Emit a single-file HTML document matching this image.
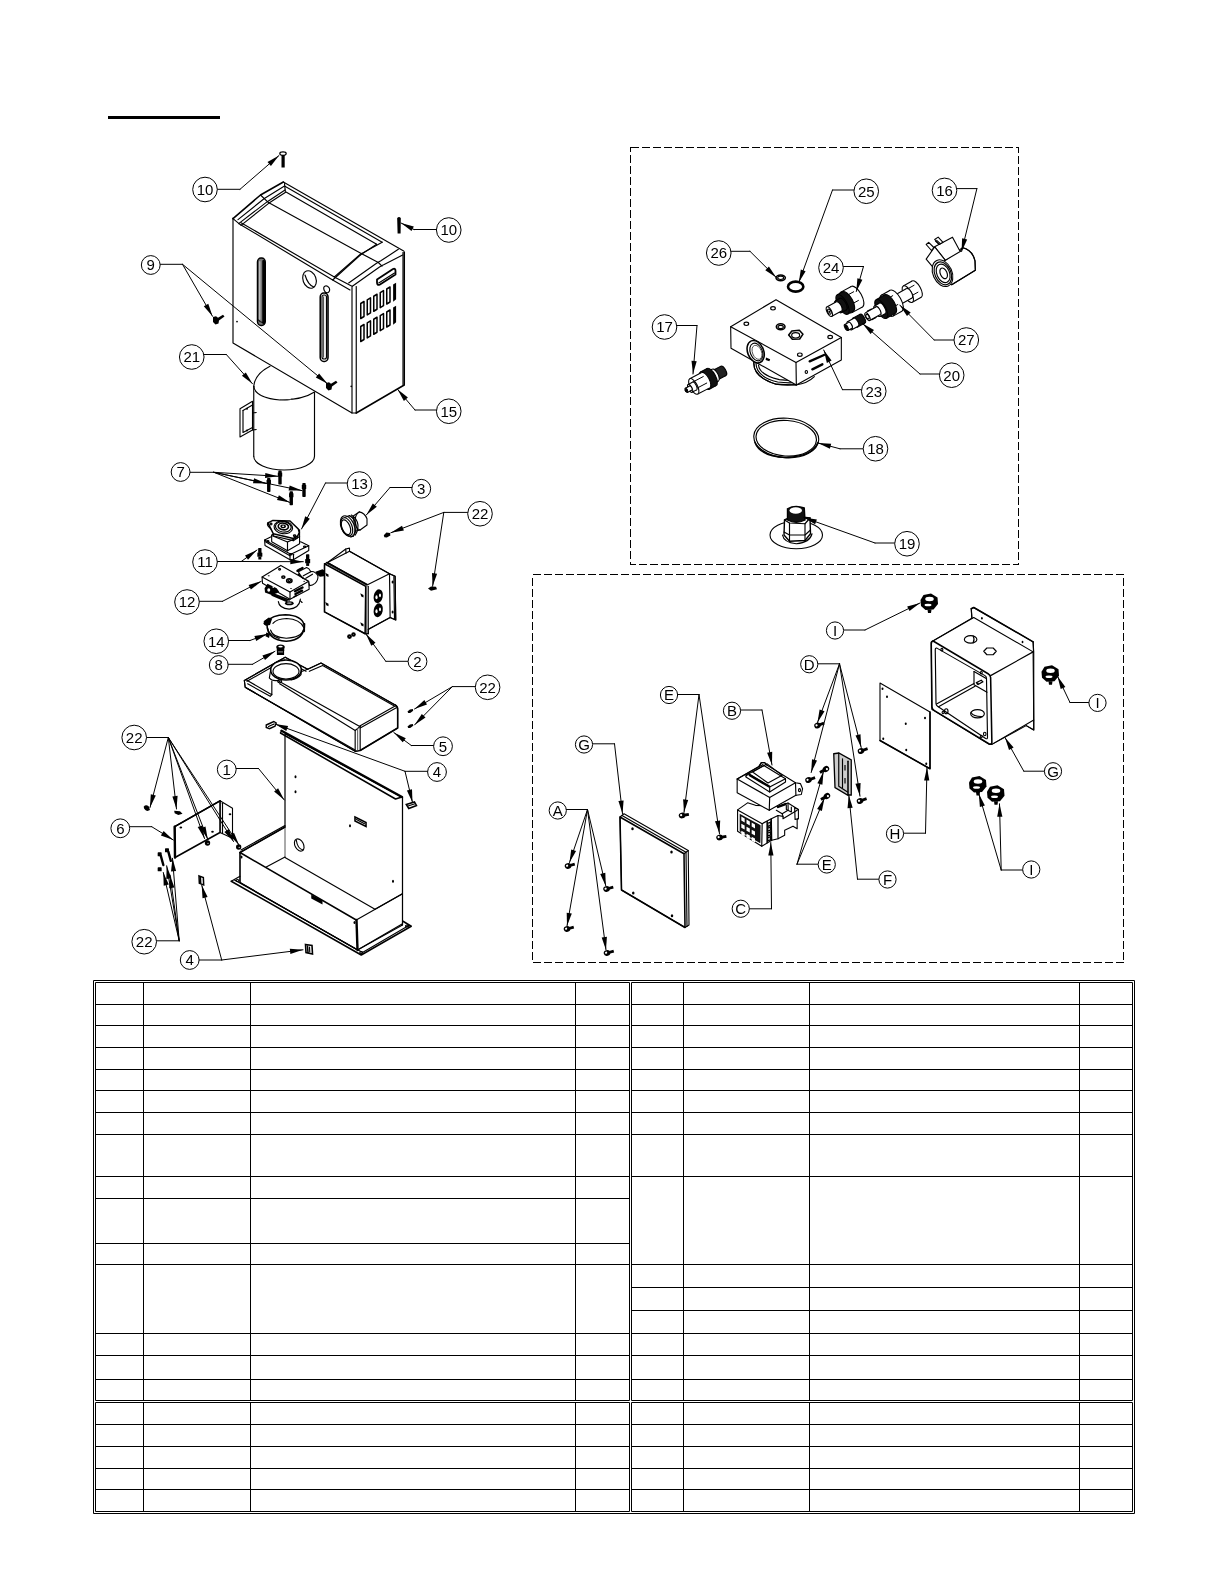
<!DOCTYPE html>
<html><head><meta charset="utf-8"><title>Parts diagram</title>
<style>
html,body{margin:0;padding:0;background:#fff;}
body{width:1224px;height:1584px;overflow:hidden;position:relative;font-family:"Liberation Sans",sans-serif;}
svg{position:absolute;left:0;top:0;filter:grayscale(1);}
svg *{vector-effect:non-scaling-stroke;}
.l{fill:none;stroke:#000;stroke-width:1.15;stroke-linecap:round;stroke-linejoin:round;}
.t{fill:none;stroke:#000;stroke-width:1.55;stroke-linecap:round;stroke-linejoin:round;}
.h{fill:none;stroke:#000;stroke-width:2.4;stroke-linecap:round;stroke-linejoin:round;}
.w{fill:#fff;stroke:#000;stroke-width:1.1;stroke-linejoin:round;}
.wt{fill:#fff;stroke:#000;stroke-width:1.55;stroke-linejoin:round;}
.k{fill:#000;stroke:none;}
.ks{fill:#000;stroke:#000;stroke-width:1;stroke-linejoin:round;}
.g{fill:none;stroke:#555;stroke-width:1;}
.d{fill:none;stroke:#000;stroke-width:1;stroke-dasharray:8 3;shape-rendering:crispEdges;}
.c{fill:#fff;stroke:#000;stroke-width:1;}
.n{font-family:"Liberation Sans",sans-serif;font-size:15px;fill:#000;text-anchor:middle;stroke:#fff;stroke-width:0.45;paint-order:stroke;opacity:0.999;}
.tb{fill:none;stroke:#000;stroke-width:1.3;shape-rendering:crispEdges;}
</style></head><body>
<svg width="1224" height="1584" viewBox="0 0 1224 1584">
<!-- 00_table.svg -->
<rect x="108" y="116" width="112" height="3" fill="#000"/>
<rect x="93.5" y="980.5" width="1041.0" height="533.0" stroke="#000" stroke-width="1.0" fill="none"/>
<rect x="95.5" y="982.5" width="534.0" height="418.0" stroke="#000" stroke-width="1.0" fill="none"/>
<rect x="95.5" y="1402.5" width="534.0" height="109.0" stroke="#000" stroke-width="1.0" fill="none"/>
<rect x="631.5" y="982.5" width="501.0" height="418.0" stroke="#000" stroke-width="1.0" fill="none"/>
<rect x="631.5" y="1402.5" width="501.0" height="109.0" stroke="#000" stroke-width="1.0" fill="none"/>
<path d="M95.0 1004.5H630.0" stroke="#000" stroke-width="1.0" fill="none"/>
<path d="M95.0 1025.5H630.0" stroke="#000" stroke-width="1.0" fill="none"/>
<path d="M95.0 1047.5H630.0" stroke="#000" stroke-width="1.0" fill="none"/>
<path d="M95.0 1069.5H630.0" stroke="#000" stroke-width="1.0" fill="none"/>
<path d="M95.0 1090.5H630.0" stroke="#000" stroke-width="1.0" fill="none"/>
<path d="M95.0 1112.5H630.0" stroke="#000" stroke-width="1.0" fill="none"/>
<path d="M95.0 1134.5H630.0" stroke="#000" stroke-width="1.0" fill="none"/>
<path d="M95.0 1176.5H630.0" stroke="#000" stroke-width="1.0" fill="none"/>
<path d="M95.0 1198.5H630.0" stroke="#000" stroke-width="1.0" fill="none"/>
<path d="M95.0 1243.5H630.0" stroke="#000" stroke-width="1.0" fill="none"/>
<path d="M95.0 1264.5H630.0" stroke="#000" stroke-width="1.0" fill="none"/>
<path d="M95.0 1333.5H630.0" stroke="#000" stroke-width="1.0" fill="none"/>
<path d="M95.0 1355.5H630.0" stroke="#000" stroke-width="1.0" fill="none"/>
<path d="M95.0 1379.5H630.0" stroke="#000" stroke-width="1.0" fill="none"/>
<path d="M95.0 1424.5H630.0" stroke="#000" stroke-width="1.0" fill="none"/>
<path d="M95.0 1446.5H630.0" stroke="#000" stroke-width="1.0" fill="none"/>
<path d="M95.0 1468.5H630.0" stroke="#000" stroke-width="1.0" fill="none"/>
<path d="M95.0 1489.5H630.0" stroke="#000" stroke-width="1.0" fill="none"/>
<path d="M631.0 1004.5H1133.0" stroke="#000" stroke-width="1.0" fill="none"/>
<path d="M631.0 1025.5H1133.0" stroke="#000" stroke-width="1.0" fill="none"/>
<path d="M631.0 1047.5H1133.0" stroke="#000" stroke-width="1.0" fill="none"/>
<path d="M631.0 1069.5H1133.0" stroke="#000" stroke-width="1.0" fill="none"/>
<path d="M631.0 1090.5H1133.0" stroke="#000" stroke-width="1.0" fill="none"/>
<path d="M631.0 1112.5H1133.0" stroke="#000" stroke-width="1.0" fill="none"/>
<path d="M631.0 1134.5H1133.0" stroke="#000" stroke-width="1.0" fill="none"/>
<path d="M631.0 1176.5H1133.0" stroke="#000" stroke-width="1.0" fill="none"/>
<path d="M631.0 1264.5H1133.0" stroke="#000" stroke-width="1.0" fill="none"/>
<path d="M631.0 1287.5H1133.0" stroke="#000" stroke-width="1.0" fill="none"/>
<path d="M631.0 1310.5H1133.0" stroke="#000" stroke-width="1.0" fill="none"/>
<path d="M631.0 1333.5H1133.0" stroke="#000" stroke-width="1.0" fill="none"/>
<path d="M631.0 1355.5H1133.0" stroke="#000" stroke-width="1.0" fill="none"/>
<path d="M631.0 1379.5H1133.0" stroke="#000" stroke-width="1.0" fill="none"/>
<path d="M631.0 1424.5H1133.0" stroke="#000" stroke-width="1.0" fill="none"/>
<path d="M631.0 1446.5H1133.0" stroke="#000" stroke-width="1.0" fill="none"/>
<path d="M631.0 1468.5H1133.0" stroke="#000" stroke-width="1.0" fill="none"/>
<path d="M631.0 1489.5H1133.0" stroke="#000" stroke-width="1.0" fill="none"/>
<path d="M143.5 982.0V1401.0" stroke="#000" stroke-width="1.0" fill="none"/>
<path d="M143.5 1402.0V1512.0" stroke="#000" stroke-width="1.0" fill="none"/>
<path d="M250.5 982.0V1401.0" stroke="#000" stroke-width="1.0" fill="none"/>
<path d="M250.5 1402.0V1512.0" stroke="#000" stroke-width="1.0" fill="none"/>
<path d="M575.5 982.0V1401.0" stroke="#000" stroke-width="1.0" fill="none"/>
<path d="M575.5 1402.0V1512.0" stroke="#000" stroke-width="1.0" fill="none"/>
<path d="M683.5 982.0V1401.0" stroke="#000" stroke-width="1.0" fill="none"/>
<path d="M683.5 1402.0V1512.0" stroke="#000" stroke-width="1.0" fill="none"/>
<path d="M809.5 982.0V1401.0" stroke="#000" stroke-width="1.0" fill="none"/>
<path d="M809.5 1402.0V1512.0" stroke="#000" stroke-width="1.0" fill="none"/>
<path d="M1079.5 982.0V1401.0" stroke="#000" stroke-width="1.0" fill="none"/>
<path d="M1079.5 1402.0V1512.0" stroke="#000" stroke-width="1.0" fill="none"/>
<rect class="d" x="630.5" y="147.5" width="388" height="417"/>
<rect class="d" x="532.5" y="574.5" width="591" height="388"/>
<!-- 05_motor.svg -->
<g transform="translate(80 140) scale(0.25)">
<path d="M695,985 Q700,935 760,905 L938,1010 L938,1265 A121.5,55 0 0 1 695,1265Z" fill="#fff"/>
<path class="l" d="M695,985 Q700,935 760,905"/>
<path class="l" d="M695,985 Q700,1030 800,1040 Q890,1040 938,1008"/>
<path class="g" d="M800,1038 Q830,1045 850,1034"/>
<path class="l" d="M695,985 L695,1265"/>
<path class="l" d="M938,1010 L938,1265"/>
<path class="l" d="M695,1265 A121.5,55 0 0 0 938,1265"/>
<path class="w" d="M640,1075 L690,1045 L690,1160 L640,1188Z"/>
<path class="l" d="M652,1082 L652,1170 L690,1150"/>
<path class="l" d="M652,1082 L690,1060"/>
<path class="l" d="M690,1092 L705,1090"/>
<path class="l" d="M690,1160 L705,1158"/>
<circle class="k" cx="668" cy="1075" r="4"/><circle class="k" cx="668" cy="1162" r="4"/>
</g>
<!-- 08_frame.svg -->
<g transform="translate(215 690) scale(0.25)">
<path class="w" d="M280,175 L750,430 L750,940 L570,1040 L100,770 L100,650 L280,548Z"/>
<path class="g" d="M280,180 L280,670"/>
<path class="h" d="M266,163 L748,428"/>
<path class="t" d="M262,172 L722,436 L748,428"/>
<path class="l" d="M262,172 L266,163"/>
<path class="l" d="M750,430 L750,940"/>
<path class="l" d="M280,670 L640,877 L750,815"/>
<path class="l" d="M205,708 L280,668"/>
<path class="t" d="M100,650 L280,548"/>
<path class="l" d="M104,640 L280,542"/>
<path class="t" d="M100,650 L565,920"/>
<path class="l" d="M100,650 L100,770"/>
<path class="h" d="M566,920 L570,1040"/>
<path class="l" d="M565,920 L750,815"/>
<path class="l" d="M100,770 L570,1040 L750,935"/>
<path class="t" d="M65,765 L585,1060 L785,945 L752,925"/>
<path class="l" d="M65,765 L100,745"/>
<path class="l" d="M78,760 L590,1050 L775,942"/>
<ellipse class="l" cx="90" cy="762" rx="6" ry="4"/>
<ellipse class="l" cx="585" cy="1050" rx="6" ry="4"/>
<ellipse class="l" cx="768" cy="944" rx="6" ry="4"/>
<ellipse class="l" cx="337" cy="620" rx="17" ry="26" transform="rotate(-28 337 620)"/>
<path class="l" d="M325,600 Q330,635 352,640"/>
<path d="M560,508 L604,530 L604,546 L560,524Z" fill="#fff" stroke="#000" stroke-width="1.6"/>
<path class="l" d="M566,518 L598,535"/>
<ellipse class="k" cx="322" cy="347" rx="4" ry="6"/>
<ellipse class="k" cx="322" cy="407" rx="4" ry="6"/>
<ellipse class="k" cx="540" cy="543" rx="4" ry="6"/>
<ellipse class="k" cx="712" cy="765" rx="4" ry="6"/>
<ellipse class="k" cx="558" cy="930" rx="4" ry="6"/>
<ellipse class="k" cx="106" cy="668" rx="4" ry="6"/>
<path class="k" d="M385,818 L430,842 L430,858 L385,834Z"/>
<path d="M205,140 L235,126 L245,132 L240,145 L218,155 L205,150Z" fill="#fff" stroke="#000" stroke-width="1.4"/>
<path class="l" d="M214,146 L236,136"/>
<path d="M765,458 L798,448 L806,462 L775,474Z" fill="#fff" stroke="#000" stroke-width="1.5"/>
<path class="l" d="M772,464 L800,455"/>
<path d="M362,1018 L388,1022 L390,1056 L364,1050Z" fill="#fff" stroke="#000" stroke-width="1.6"/>
<path class="t" d="M370,1024 L372,1050"/>
<path class="l" d="M378,1028 L379,1048"/>
</g>
<!-- 10_cover.svg -->
<g transform="translate(225 175) scale(0.16667)">
<path class="t" d="M48,262 L213,120 L350,42"/>
<path class="l" d="M350,42 L1072,456"/>
<path class="l" d="M78,268 L236,141 L357,66 L943,403"/>
<path class="l" d="M357,52 L362,98"/>
<path class="l" d="M84,290 L254,160 L360,90"/>
<path class="l" d="M96,302 L262,170 L366,102 L910,416"/>
<path class="l" d="M943,403 L818,472"/>
<path class="l" d="M910,416 L812,480"/>
<path class="l" d="M84,292 L646,630 L812,480"/>
<path class="l" d="M96,286 L656,612 L818,470"/>
<path class="l" d="M48,262 L84,292"/>
<path class="l" d="M213,120 L258,163 L820,472 L920,525 L942,547"/>
<path class="l" d="M656,612 L762,668"/>
<path class="l" d="M646,630 L750,690"/>
<path class="l" d="M764,668 L925,553 Q938,545 955,537 L1066,480"/>
<path class="l" d="M742,648 L905,533 Q918,525 935,515 L1040,446"/>
</g>
<g transform="translate(215 165) scale(0.25)">
<path class="l" d="M72,212 L72,712 L548,992 L565,992"/>
<path class="t" d="M565,992 L757,880 L757,348"/>
<path class="l" d="M548,490 L548,992"/>
<path class="l" d="M565,486 L565,992"/>
<path class="l" d="M752,350 L752,878"/>
<rect x="170" y="372" width="31" height="270" rx="14" ry="16" fill="#777" stroke="#000" stroke-width="1.5"/>
<rect x="189" y="380" width="11" height="256" rx="4" fill="#000"/>
<rect x="176" y="384" width="6" height="236" rx="3" fill="#bbb"/>
<path class="l" d="M174,620 Q184,634 198,628"/>
<rect x="421" y="512" width="31" height="274" rx="14" ry="16" fill="#fff" stroke="#000" stroke-width="1.6"/>
<rect x="428" y="520" width="18" height="256" rx="8" fill="#eee" stroke="#000" stroke-width="1.1"/>
<path class="g" d="M434,526 L434,770"/>
<ellipse class="l" cx="378" cy="458" rx="26" ry="36" transform="rotate(-20 378 458)"/>
<path class="l" d="M360,440 Q372,480 395,488"/>
<ellipse class="l" cx="447" cy="497" rx="11" ry="14" transform="rotate(-25 447 497)"/>
<circle class="k" cx="88" cy="626" r="3.5"/><circle class="k" cx="545" cy="885" r="3.5"/>
<path d="M583,554.0 L596,546.0 L596,606.0 L583,614.0Z" fill="#fff" stroke="#000" stroke-width="1.5" stroke-linejoin="round"/>
<path d="M609,539.5 L622,531.5 L622,591.5 L609,599.5Z" fill="#fff" stroke="#000" stroke-width="1.5" stroke-linejoin="round"/>
<path d="M635,525.0 L648,517.0 L648,577.0 L635,585.0Z" fill="#fff" stroke="#000" stroke-width="1.5" stroke-linejoin="round"/>
<path d="M661,510.5 L674,502.5 L674,562.5 L661,570.5Z" fill="#fff" stroke="#000" stroke-width="1.5" stroke-linejoin="round"/>
<path d="M687,496.0 L700,488.0 L700,548.0 L687,556.0Z" fill="#fff" stroke="#000" stroke-width="1.5" stroke-linejoin="round"/>
<path d="M715,479.5 L722,475.5 L722,535.5 L715,541.5Z" fill="#000" stroke="#000" stroke-width="1.2"/>
<path d="M583,646.0 L596,638.0 L596,698.0 L583,706.0Z" fill="#fff" stroke="#000" stroke-width="1.5" stroke-linejoin="round"/>
<path d="M609,631.5 L622,623.5 L622,683.5 L609,691.5Z" fill="#fff" stroke="#000" stroke-width="1.5" stroke-linejoin="round"/>
<path d="M635,617.0 L648,609.0 L648,669.0 L635,677.0Z" fill="#fff" stroke="#000" stroke-width="1.5" stroke-linejoin="round"/>
<path d="M661,602.5 L674,594.5 L674,654.5 L661,662.5Z" fill="#fff" stroke="#000" stroke-width="1.5" stroke-linejoin="round"/>
<path d="M687,588.0 L700,580.0 L700,640.0 L687,648.0Z" fill="#fff" stroke="#000" stroke-width="1.5" stroke-linejoin="round"/>
<path d="M715,571.5 L722,567.5 L722,627.5 L715,633.5Z" fill="#000" stroke="#000" stroke-width="1.2"/>
<path d="M648,458 L712,416 Q722,412 722,424 L722,438 L660,478 Q648,484 648,470Z" fill="#fff" stroke="#000" stroke-width="1.8" stroke-linejoin="round"/>
<path class="l" d="M655,472 L718,432"/>
</g>
<!-- 20_mid.svg -->
<g transform="translate(240 505) scale(0.08333)">
<path class="w" d="M295,420 L380,378 L735,445 L825,490 L825,545 L645,655 L600,658 L300,485Z"/>
<path class="l" d="M295,420 L610,590 L825,490"/>
<path class="l" d="M600,592 L600,656"/>
<path class="l" d="M642,592 L642,656"/>
<path class="l" d="M305,440 L600,610"/>
<ellipse class="l" cx="335" cy="435" rx="12" ry="8"/>
<ellipse class="l" cx="612" cy="592" rx="13" ry="8"/>
<ellipse class="l" cx="775" cy="500" rx="13" ry="8"/>
<path class="w" d="M380,360 L380,440 L570,550 L715,465 L715,300 L560,250Z"/>
<path class="l" d="M570,445 L570,550"/>
<path class="l" d="M380,365 L570,445 L715,380"/>
<path class="wt" d="M335,215 L395,185 L600,192 L700,288 L712,330 L692,372 L640,402 L400,345 L372,290 Z"/>
<path class="l" d="M335,215 Q320,235 345,262 L372,290"/>
<path class="l" d="M400,345 L405,372 L640,428 L640,402"/>
<path class="l" d="M640,428 L690,395 L692,372"/>
<ellipse class="l" cx="520" cy="268" rx="112" ry="76" transform="rotate(8 520 268)"/>
<ellipse class="l" cx="520" cy="262" rx="95" ry="62" transform="rotate(8 520 262)"/>
<ellipse class="t" cx="520" cy="258" rx="62" ry="40" transform="rotate(8 520 258)"/>
<ellipse class="k" cx="518" cy="256" rx="34" ry="22" transform="rotate(8 518 256)"/>
<ellipse cx="518" cy="256" rx="14" ry="9" fill="#fff"/>
<ellipse class="l" cx="655" cy="368" rx="14" ry="9"/>
<ellipse class="l" cx="372" cy="228" rx="12" ry="10"/>
<rect class="k" x="218" y="515" width="40" height="60" rx="8"/>
<rect class="k" x="208" y="570" width="60" height="52" rx="6"/>
<rect class="k" x="220" y="620" width="36" height="34"/>
<rect class="k" x="792" y="592" width="40" height="60" rx="8"/>
<rect class="k" x="782" y="647" width="60" height="52" rx="6"/>
<rect class="k" x="794" y="697" width="36" height="34"/>
<path class="w" d="M265,865 L490,725 L825,915 L830,1010 L600,1130 L270,940Z"/>
<path class="l" d="M265,865 L600,1045 L825,915"/>
<path class="l" d="M600,1045 L600,1130"/>
<ellipse class="l" cx="475" cy="772" rx="12" ry="9"/>
<ellipse class="k" cx="345" cy="848" rx="12" ry="6"/>
<ellipse class="t" cx="520" cy="865" rx="18" ry="13"/>
<ellipse class="t" cx="592" cy="908" rx="32" ry="24"/>
<ellipse class="l" cx="592" cy="908" rx="15" ry="11"/>
<ellipse class="k" cx="770" cy="915" rx="10" ry="7"/>
<ellipse class="k" cx="612" cy="1002" rx="10" ry="7"/>
<path class="h" d="M660,1035 L750,990"/>
<path class="h" d="M665,1068 L745,1028"/>
<path class="t" d="M650,1100 L680,1085"/>
<path class="w" d="M700,800 L800,750 Q830,760 850,800 Q900,790 935,850 Q940,900 900,940 Q870,965 835,968 L825,915 L740,868Z"/>
<path class="l" d="M760,850 L850,800"/>
<path class="l" d="M790,880 L870,830"/>
<path class="h" d="M690,790 L715,775"/>
<path class="h" d="M725,770 L750,755"/>
<path class="t" d="M700,830 L760,880"/>
<path class="k" d="M905,800 L990,770 L1040,800 L1050,850 L960,860 L930,840Z"/>
<path class="k" d="M330,945 L440,1000 L470,1040 L440,1060 L380,1080 L300,1050 L295,1000Z"/>
<ellipse cx="345" cy="1020" rx="18" ry="22" fill="#fff"/><ellipse cx="400" cy="985" rx="12" ry="10" fill="#fff"/>
<path class="h" d="M390,1080 L560,1150"/>
<path class="t" d="M380,1060 L590,1140"/>
<path class="l" d="M460,1160 Q470,1240 590,1250 Q710,1240 725,1130"/>
<ellipse class="k" cx="592" cy="1180" rx="52" ry="24"/>
<ellipse cx="592" cy="1178" rx="30" ry="10" fill="#999"/>
<path class="l" d="M725,1150 L745,1170"/>
<path class="t" d="M330,1400 Q380,1320 545,1318 Q740,1325 770,1440"/>
<path class="l" d="M395,1420 Q440,1365 560,1362 Q720,1370 765,1470"/>
<path class="l" d="M330,1470 Q340,1560 470,1600"/>
<path class="l" d="M770,1440 L770,1520"/>
<path class="k" d="M290,1395 L345,1350 L385,1365 L360,1440 L310,1450 L280,1425Z"/>
</g>
<g transform="translate(130 440) scale(0.25)">
<path class="t" d="M548,738 Q548,800 625,805 Q700,800 698,735"/>
<path class="l" d="M562,760 Q570,790 625,793 Q685,790 693,760"/>
<path class="l" d="M698,735 L698,765"/>
<path class="k" d="M538,722 L555,712 L562,728 L548,742 L536,738Z"/>
<path class="k" d="M545,770 L560,775 L556,792 L542,785Z"/>
<ellipse class="k" cx="602" cy="828" rx="17" ry="10"/><ellipse cx="602" cy="827" rx="9" ry="4.5" fill="#fff"/>
<rect class="k" x="587" y="830" width="30" height="14"/><rect x="590" y="844" width="24" height="14" fill="#fff" stroke="#000" stroke-width="1.2"/>
<path class="l" d="M590,849 L614,849"/>
<path class="l" d="M590,854 L614,854"/>
</g>
<g transform="translate(312 500) scale(0.125)">
<path class="w" d="M270,392 L300,385 L300,410 L620,590 L665,610 L670,960 L625,940 L625,940 L450,1035 L450,1070 L425,1070 L100,895 L100,510 L125,500Z"/>
<path class="t" d="M100,510 L100,895 L425,1070 L430,690 L100,510"/>
<path class="l" d="M125,500 L300,410 L620,590 L440,680 L125,500"/>
<path class="g" d="M112,505 L436,684"/>
<path class="t" d="M118,500 L440,676"/>
<path class="l" d="M620,590 L625,940 L450,1035"/>
<path class="l" d="M450,690 L450,1068"/>
<path class="g" d="M437,690 L437,1068"/>
<path class="l" d="M425,1070 L450,1070"/>
<path class="l" d="M270,392 L272,425"/>
<path class="l" d="M620,590 L665,610 L670,960 L625,940"/>
<path class="l" d="M655,612 L660,950"/>
<ellipse class="k" cx="530" cy="770" rx="36" ry="56" transform="rotate(12 530 770)"/>
<ellipse cx="516" cy="778" rx="9" ry="16" fill="#fff"/><ellipse cx="544" cy="762" rx="8" ry="15" fill="#fff"/>
<ellipse class="k" cx="530" cy="882" rx="36" ry="56" transform="rotate(12 530 882)"/>
<ellipse cx="516" cy="890" rx="9" ry="16" fill="#fff"/><ellipse cx="544" cy="874" rx="8" ry="15" fill="#fff"/>
<path class="k" d="M106,581 L132,595 L132,615 L114,607Z"/>
<path class="k" d="M106,816 L132,830 L132,850 L114,842Z"/>
<path class="k" d="M386,746 L412,760 L412,780 L394,772Z"/>
<path class="k" d="M386,978 L412,992 L412,1012 L394,1004Z"/>
<ellipse class="k" cx="645" cy="655" rx="8" ry="12"/>
<ellipse class="k" cx="645" cy="895" rx="8" ry="12"/>
<ellipse class="k" cx="300" cy="1092" rx="19" ry="19"/>
<ellipse class="k" cx="332" cy="1076" rx="18" ry="18"/>
<circle cx="300" cy="1090" r="3" fill="#fff"/><circle cx="331" cy="1074" r="3" fill="#fff"/>
<path class="w" d="M330,128 L378,95 Q420,100 440,150 L440,200 L385,240 L345,250Z"/>
<path class="l" d="M378,95 Q340,120 345,180 Q350,230 385,240"/>
<ellipse class="w" cx="285" cy="210" rx="52" ry="88" transform="rotate(-22 285 210)"/>
<ellipse class="l" cx="278" cy="214" rx="42" ry="76" transform="rotate(-22 278 214)"/>
<ellipse class="l" cx="272" cy="218" rx="32" ry="62" transform="rotate(-22 272 218)"/>
<path class="l" d="M300,125 Q345,150 352,200 Q355,260 330,290"/>
<path class="l" d="M315,120 Q362,150 368,200 Q368,250 345,282"/>
<path class="l" d="M262,140 L300,125 M310,295 L330,290"/>
</g>
<!-- 30_lower.svg -->
<g transform="translate(236 648) scale(0.16667)">
<path class="w" d="M50,195 L295,55 L430,128 L510,90 L955,342 Q972,352 970,372 L970,480 L745,615 L715,620 L55,235 Z"/>
<path class="l" d="M50,195 L295,55 L430,128 L510,90 L955,342"/>
<path class="t" d="M955,342 Q972,352 970,372 L970,480 L745,615"/>
<path class="l" d="M50,195 L55,235 L715,620 L745,615"/>
<path class="l" d="M62,240 L712,610"/>
<path class="l" d="M66,200 L290,72 L420,140"/>
<path class="l" d="M60,190 L215,280 L215,200"/>
<path class="l" d="M70,215 L205,290 L215,280"/>
<path class="l" d="M430,128 L250,195 L740,470 L960,345"/>
<path class="l" d="M440,140 L520,105 L945,345"/>
<path class="l" d="M262,215 L715,495 L745,470"/>
<path class="l" d="M715,495 L715,618"/>
<path class="l" d="M745,470 L745,615"/>
<path class="l" d="M745,480 L962,358"/>
<path class="g" d="M730,482 L730,616"/>
<ellipse class="wt" cx="300" cy="132" rx="92" ry="60"/>
<ellipse class="l" cx="300" cy="140" rx="78" ry="46"/>
<path class="l" d="M208,132 L200,180 Q215,200 250,195"/>
<path class="l" d="M392,132 L390,160 Q370,185 330,192"/>
<ellipse class="l" cx="262" cy="200" rx="12" ry="9"/>
</g>
<g transform="translate(100 710) scale(0.16667)">
<path class="w" d="M720,545 L795,590 L795,770 L720,735Z"/>
<path class="wt" d="M448,700 L720,545 L720,735 L450,885Z"/>
<path class="t" d="M448,700 L720,545"/>
<path class="h" d="M448,700 L450,885"/>
<path class="l" d="M735,560 L735,740"/>
<ellipse class="k" cx="485" cy="705" rx="8" ry="6"/>
<ellipse class="k" cx="675" cy="730" rx="8" ry="6"/>
<ellipse class="k" cx="780" cy="625" rx="8" ry="6"/>
<ellipse class="k" cx="645" cy="798" rx="16" ry="16"/>
<circle cx="648" cy="800" r="3.5" fill="#fff"/>
<ellipse class="k" cx="832" cy="822" rx="16" ry="16"/>
<circle cx="835" cy="824" r="3.5" fill="#fff"/>
<path class="k" d="M262,580 Q275,565 292,578 L300,600 L285,606 Q265,600 262,580Z"/>
<path class="k" d="M445,605 L480,608 L495,622 L470,630 L448,620Z"/>
<rect class="k" x="346" y="854" width="24" height="24" rx="4"/>
<rect class="k" x="390" y="830" width="24" height="24" rx="4"/>
<rect class="k" x="346" y="944" width="24" height="24" rx="4"/>
<path class="h" d="M365,875 L380,930"/>
<path class="h" d="M410,850 L425,905"/>
<path d="M594,995 L620,1005 L622,1050 L596,1040Z" fill="#fff" stroke="#000" stroke-width="1.5"/>
<path class="t" d="M602,1002 L604,1040"/>
</g>
<!-- 40_box1.svg -->
<g transform="translate(676 270) scale(0.16667)">
<path class="w" d="M468,545 Q455,640 600,685 L720,690 L720,560Z"/>
<path class="l" d="M468,545 Q455,640 600,685 Q660,695 720,688"/>
<path class="l" d="M480,560 Q480,640 610,672 Q670,680 720,675"/>
<path class="l" d="M495,570 Q500,630 620,658 Q680,665 720,660"/>
<path class="l" d="M720,690 Q790,680 830,640"/>
<path class="w" d="M328,340 L600,178 L992,405 L992,540 L722,690 L330,470Z"/>
<path class="l" d="M328,340 L720,555 L992,405"/>
<path class="l" d="M720,555 L722,690"/>
<ellipse class="l" cx="582" cy="230" rx="14" ry="10"/>
<ellipse class="l" cx="422" cy="323" rx="14" ry="10"/>
<ellipse class="l" cx="925" cy="402" rx="14" ry="10"/>
<ellipse class="l" cx="743" cy="508" rx="14" ry="10"/>
<ellipse class="t" cx="628" cy="340" rx="26" ry="18"/>
<ellipse class="l" cx="628" cy="342" rx="16" ry="10"/>
<path class="t" d="M676,390 L695,366 L740,362 L762,385 L742,414 L698,416Z"/>
<ellipse class="l" cx="718" cy="392" rx="24" ry="16"/>
<ellipse class="wt" cx="478" cy="490" rx="48" ry="70" transform="rotate(-22 478 490)"/>
<ellipse class="l" cx="482" cy="492" rx="36" ry="55" transform="rotate(-22 482 492)"/>
<ellipse class="g" cx="486" cy="494" rx="27" ry="44" transform="rotate(-22 486 494)"/>
<path class="k" d="M540,525 L565,535 L560,548 L538,540Z"/>
<path class="h" d="M802,548 L888,510"/>
<path class="h" d="M818,596 L878,566"/>
<ellipse class="l" cx="782" cy="612" rx="7" ry="9"/>
<ellipse class="t" cx="628" cy="47" rx="28" ry="17"/>
<ellipse class="l" cx="628" cy="47" rx="18" ry="10"/>
<ellipse cx="718" cy="100" rx="46" ry="30" fill="none" stroke="#000" stroke-width="2.6"/>
<ellipse cx="285.0" cy="605.0" rx="13.4" ry="32.0" transform="rotate(-27.7 285.0 605.0)" fill="#222" stroke="#000" stroke-width="1.1"/>
<path d="M246.3,661.4 L299.9,633.3 L270.1,576.7 L216.6,604.7Z" fill="#222" stroke="none"/>
<path d="M246.3,661.4 L299.9,633.3 M216.6,604.7 L270.1,576.7" fill="none" stroke="#000" stroke-width="1.1"/>
<ellipse cx="231.5" cy="633.1" rx="13.4" ry="32.0" transform="rotate(-27.7 231.5 633.1)" fill="#222" stroke="#000" stroke-width="1.1"/>
<ellipse cx="235.9" cy="630.7" rx="16.8" ry="40.0" transform="rotate(-27.7 235.9 630.7)" fill="#fff" stroke="#000" stroke-width="1.1"/>
<path d="M227.8,680.2 L254.5,666.2 L217.4,595.3 L190.6,609.4Z" fill="#fff" stroke="none"/>
<path d="M227.8,680.2 L254.5,666.2 M190.6,609.4 L217.4,595.3" fill="none" stroke="#000" stroke-width="1.1"/>
<ellipse cx="209.2" cy="644.8" rx="16.8" ry="40.0" transform="rotate(-27.7 209.2 644.8)" fill="#fff" stroke="#000" stroke-width="1.1"/>
<ellipse cx="213.6" cy="642.4" rx="24.4" ry="58.0" transform="rotate(-27.7 213.6 642.4)" fill="#111" stroke="#000" stroke-width="1.1"/>
<path d="M200.4,714.9 L240.6,693.8 L186.7,591.1 L146.6,612.1Z" fill="#111" stroke="none"/>
<path d="M200.4,714.9 L240.6,693.8 M146.6,612.1 L186.7,591.1" fill="none" stroke="#000" stroke-width="1.1"/>
<ellipse cx="173.5" cy="663.5" rx="24.4" ry="58.0" transform="rotate(-27.7 173.5 663.5)" fill="#111" stroke="#000" stroke-width="1.1"/>
<ellipse cx="178.0" cy="661.2" rx="21.8" ry="52.0" transform="rotate(-27.7 178.0 661.2)" fill="#fff" stroke="#000" stroke-width="1.1"/>
<path d="M130.8,744.6 L202.1,707.2 L153.8,615.1 L82.4,652.6Z" fill="#fff" stroke="none"/>
<path d="M130.8,744.6 L202.1,707.2 M82.4,652.6 L153.8,615.1" fill="none" stroke="#000" stroke-width="1.1"/>
<ellipse cx="106.6" cy="698.6" rx="21.8" ry="52.0" transform="rotate(-27.7 106.6 698.6)" fill="#fff" stroke="#000" stroke-width="1.1"/>
<path d="M115.1,714.7 L186.4,677.3 M94.5,675.6 L165.9,638.1" fill="none" stroke="#000" stroke-width="1"/>
<ellipse cx="111.1" cy="696.3" rx="10.9" ry="26.0" transform="rotate(-27.7 111.1 696.3)" fill="#fff" stroke="#000" stroke-width="1.1"/>
<path d="M96.4,733.3 L123.1,719.3 L99.0,673.2 L72.2,687.3Z" fill="#fff" stroke="none"/>
<path d="M96.4,733.3 L123.1,719.3 M72.2,687.3 L99.0,673.2" fill="none" stroke="#000" stroke-width="1.1"/>
<ellipse cx="84.3" cy="710.3" rx="10.9" ry="26.0" transform="rotate(-27.7 84.3 710.3)" fill="#fff" stroke="#000" stroke-width="1.1"/>
<ellipse cx="88.8" cy="708.0" rx="5.9" ry="14.0" transform="rotate(-27.7 88.8 708.0)" fill="#fff" stroke="#000" stroke-width="1.1"/>
<path d="M68.5,734.4 L95.3,720.4 L82.3,695.6 L55.5,709.6Z" fill="#fff" stroke="none"/>
<path d="M68.5,734.4 L95.3,720.4 M55.5,709.6 L82.3,695.6" fill="none" stroke="#000" stroke-width="1.1"/>
<ellipse cx="62.0" cy="722.0" rx="5.9" ry="14.0" transform="rotate(-27.7 62.0 722.0)" fill="#fff" stroke="#000" stroke-width="1.1"/>
<ellipse class="k" cx="62" cy="722" rx="9" ry="11"/>
<ellipse cx="1085.0" cy="160.0" rx="29.4" ry="70.0" transform="rotate(-28.6 1085.0 160.0)" fill="#fff" stroke="#000" stroke-width="1.1"/>
<path d="M1055.8,255.7 L1118.5,221.5 L1051.5,98.5 L988.8,132.7Z" fill="#fff" stroke="none"/>
<path d="M1055.8,255.7 L1118.5,221.5 M988.8,132.7 L1051.5,98.5" fill="none" stroke="#000" stroke-width="1.1"/>
<ellipse cx="1022.3" cy="194.2" rx="29.4" ry="70.0" transform="rotate(-28.6 1022.3 194.2)" fill="#fff" stroke="#000" stroke-width="1.1"/>
<path d="M1034.0,215.7 L1096.7,181.5 M1005.5,163.5 L1068.2,129.3" fill="none" stroke="#000" stroke-width="1"/>
<ellipse cx="1032.2" cy="188.8" rx="27.7" ry="66.0" transform="rotate(-28.6 1032.2 188.8)" fill="#111" stroke="#000" stroke-width="1.1"/>
<path d="M1030.8,264.7 L1063.8,246.7 L1000.6,130.9 L967.6,148.9Z" fill="#111" stroke="none"/>
<path d="M1030.8,264.7 L1063.8,246.7 M967.6,148.9 L1000.6,130.9" fill="none" stroke="#000" stroke-width="1.1"/>
<ellipse cx="999.2" cy="206.8" rx="27.7" ry="66.0" transform="rotate(-28.6 999.2 206.8)" fill="#111" stroke="#000" stroke-width="1.1"/>
<ellipse cx="1002.5" cy="205.0" rx="16.8" ry="40.0" transform="rotate(-28.6 1002.5 205.0)" fill="#111" stroke="#000" stroke-width="1.1"/>
<path d="M993.6,255.4 L1021.7,240.1 L983.3,169.9 L955.3,185.2Z" fill="#111" stroke="none"/>
<path d="M993.6,255.4 L1021.7,240.1 M955.3,185.2 L983.3,169.9" fill="none" stroke="#000" stroke-width="1.1"/>
<ellipse cx="974.5" cy="220.3" rx="16.8" ry="40.0" transform="rotate(-28.6 974.5 220.3)" fill="#111" stroke="#000" stroke-width="1.1"/>
<ellipse cx="977.8" cy="218.5" rx="13.4" ry="32.0" transform="rotate(-28.6 977.8 218.5)" fill="#fff" stroke="#000" stroke-width="1.1"/>
<path d="M935.3,278.1 L993.1,246.6 L962.4,190.4 L904.7,221.9Z" fill="#fff" stroke="none"/>
<path d="M935.3,278.1 L993.1,246.6 M904.7,221.9 L962.4,190.4" fill="none" stroke="#000" stroke-width="1.1"/>
<ellipse cx="920.0" cy="250.0" rx="13.4" ry="32.0" transform="rotate(-28.6 920.0 250.0)" fill="#fff" stroke="#000" stroke-width="1.1"/>
<ellipse class="l" cx="920" cy="250" rx="10" ry="16" transform="rotate(-28 920 250)"/>
<ellipse class="k" cx="920" cy="250" rx="5" ry="8" transform="rotate(-28 920 250)"/>
</g>
<g transform="translate(820 225) scale(0.16667)">
<ellipse cx="580.0" cy="385.0" rx="23.5" ry="56.0" transform="rotate(-29.2 580.0 385.0)" fill="#fff" stroke="#000" stroke-width="1.1"/>
<path d="M554.2,463.6 L607.3,433.9 L552.7,336.1 L499.6,365.8Z" fill="#fff" stroke="none"/>
<path d="M554.2,463.6 L607.3,433.9 M499.6,365.8 L552.7,336.1" fill="none" stroke="#000" stroke-width="1.1"/>
<ellipse cx="526.9" cy="414.7" rx="23.5" ry="56.0" transform="rotate(-29.2 526.9 414.7)" fill="#fff" stroke="#000" stroke-width="1.1"/>
<path d="M536.5,431.8 L589.6,402.1 M513.2,390.3 L566.3,360.6" fill="none" stroke="#000" stroke-width="1"/>
<ellipse cx="535.8" cy="409.8" rx="13.9" ry="33.0" transform="rotate(-29.2 535.8 409.8)" fill="#fff" stroke="#000" stroke-width="1.1"/>
<path d="M466.3,486.4 L551.9,438.6 L519.6,380.9 L434.1,428.8Z" fill="#fff" stroke="none"/>
<path d="M466.3,486.4 L551.9,438.6 M434.1,428.8 L519.6,380.9" fill="none" stroke="#000" stroke-width="1.1"/>
<ellipse cx="450.2" cy="457.6" rx="13.9" ry="33.0" transform="rotate(-29.2 450.2 457.6)" fill="#fff" stroke="#000" stroke-width="1.1"/>
<ellipse cx="456.1" cy="454.3" rx="30.2" ry="72.0" transform="rotate(-29.2 456.1 454.3)" fill="#fff" stroke="#000" stroke-width="1.1"/>
<path d="M438.1,546.8 L491.2,517.1 L421.0,391.5 L367.9,421.2Z" fill="#fff" stroke="none"/>
<path d="M438.1,546.8 L491.2,517.1 M367.9,421.2 L421.0,391.5" fill="none" stroke="#000" stroke-width="1.1"/>
<ellipse cx="403.0" cy="484.0" rx="30.2" ry="72.0" transform="rotate(-29.2 403.0 484.0)" fill="#fff" stroke="#000" stroke-width="1.1"/>
<path d="M415.3,506.0 L468.4,476.3 M385.4,452.6 L438.5,422.9" fill="none" stroke="#000" stroke-width="1"/>
<ellipse cx="420.7" cy="474.1" rx="26.9" ry="64.0" transform="rotate(-29.2 420.7 474.1)" fill="#111" stroke="#000" stroke-width="1.1"/>
<path d="M398.8,559.7 L451.9,530.0 L389.5,418.2 L336.4,447.9Z" fill="#111" stroke="none"/>
<path d="M398.8,559.7 L451.9,530.0 M336.4,447.9 L389.5,418.2" fill="none" stroke="#000" stroke-width="1.1"/>
<ellipse cx="367.6" cy="503.8" rx="26.9" ry="64.0" transform="rotate(-29.2 367.6 503.8)" fill="#111" stroke="#000" stroke-width="1.1"/>
<ellipse cx="373.5" cy="500.5" rx="15.1" ry="36.0" transform="rotate(-29.2 373.5 500.5)" fill="#fff" stroke="#000" stroke-width="1.1"/>
<path d="M361.6,548.4 L391.1,531.9 L355.9,469.1 L326.4,485.6Z" fill="#fff" stroke="none"/>
<path d="M361.6,548.4 L391.1,531.9 M326.4,485.6 L355.9,469.1" fill="none" stroke="#000" stroke-width="1.1"/>
<ellipse cx="344.0" cy="517.0" rx="15.1" ry="36.0" transform="rotate(-29.2 344.0 517.0)" fill="#fff" stroke="#000" stroke-width="1.1"/>
<ellipse cx="320.4" cy="530.2" rx="12.2" ry="29.0" transform="rotate(-29.2 320.4 530.2)" fill="#111" stroke="#000" stroke-width="1.1"/>
<path d="M313.9,567.1 L334.6,555.5 L306.2,504.9 L285.6,516.4Z" fill="#111" stroke="none"/>
<path d="M313.9,567.1 L334.6,555.5 M285.6,516.4 L306.2,504.9" fill="none" stroke="#000" stroke-width="1.1"/>
<ellipse cx="299.8" cy="541.8" rx="12.2" ry="29.0" transform="rotate(-29.2 299.8 541.8)" fill="#111" stroke="#000" stroke-width="1.1"/>
<ellipse cx="349.9" cy="513.7" rx="10.9" ry="26.0" transform="rotate(-29.2 349.9 513.7)" fill="#fff" stroke="#000" stroke-width="1.1"/>
<path d="M297.7,572.7 L362.6,536.4 L337.2,491.0 L272.3,527.3Z" fill="#fff" stroke="none"/>
<path d="M297.7,572.7 L362.6,536.4 M272.3,527.3 L337.2,491.0" fill="none" stroke="#000" stroke-width="1.1"/>
<ellipse cx="285.0" cy="550.0" rx="10.9" ry="26.0" transform="rotate(-29.2 285.0 550.0)" fill="#fff" stroke="#000" stroke-width="1.1"/>
<ellipse class="l" cx="285" cy="550" rx="9" ry="14" transform="rotate(-28 285 550)"/>
<ellipse cx="255.0" cy="562.0" rx="12.6" ry="30.0" transform="rotate(-28.7 255.0 562.0)" fill="#111" stroke="#000" stroke-width="1.1"/>
<path d="M225.7,612.2 L269.4,588.3 L240.6,535.7 L197.0,559.5Z" fill="#111" stroke="none"/>
<path d="M225.7,612.2 L269.4,588.3 M197.0,559.5 L240.6,535.7" fill="none" stroke="#000" stroke-width="1.1"/>
<ellipse cx="211.3" cy="585.9" rx="12.6" ry="30.0" transform="rotate(-28.7 211.3 585.9)" fill="#111" stroke="#000" stroke-width="1.1"/>
<ellipse cx="216.2" cy="583.2" rx="11.3" ry="27.0" transform="rotate(-28.7 216.2 583.2)" fill="#fff" stroke="#000" stroke-width="1.1"/>
<path d="M190.3,628.1 L229.1,606.9 L203.3,559.5 L164.5,580.7Z" fill="#fff" stroke="none"/>
<path d="M190.3,628.1 L229.1,606.9 M164.5,580.7 L203.3,559.5" fill="none" stroke="#000" stroke-width="1.1"/>
<ellipse cx="177.4" cy="604.4" rx="11.3" ry="27.0" transform="rotate(-28.7 177.4 604.4)" fill="#fff" stroke="#000" stroke-width="1.1"/>
<ellipse cx="182.2" cy="601.8" rx="8.4" ry="20.0" transform="rotate(-28.7 182.2 601.8)" fill="#fff" stroke="#000" stroke-width="1.1"/>
<path d="M167.6,632.6 L191.8,619.3 L172.7,584.2 L148.4,597.4Z" fill="#fff" stroke="none"/>
<path d="M167.6,632.6 L191.8,619.3 M148.4,597.4 L172.7,584.2" fill="none" stroke="#000" stroke-width="1.1"/>
<ellipse cx="158.0" cy="615.0" rx="8.4" ry="20.0" transform="rotate(-28.7 158.0 615.0)" fill="#fff" stroke="#000" stroke-width="1.1"/>
<ellipse class="k" cx="158" cy="615" rx="8" ry="18" transform="rotate(-28 158 615)"/>
<path class="w" d="M752,212 L855,136 Q915,150 930,215 L932,272 L790,358 Q700,330 700,230Z"/>
<path class="l" d="M841,159 L855,136 Q915,150 930,215 L932,272 L790,358"/>
<path class="w" d="M688,131 L795,73 L841,159 L752,212Z"/>
<path class="w" d="M688,131 L637,205 L676,251 L752,212Z"/>
<path class="w" d="M637,117 L652,104 L683,135 L669,153Z"/>
<path class="w" d="M688,87 L709,73 L738,104 L714,117Z"/>
<path class="l" d="M700,92 L722,112"/>
<path class="l" d="M694,98 L716,116"/>
<ellipse class="w" cx="735" cy="289" rx="57" ry="84" transform="rotate(-24 735 289)"/>
<ellipse class="l" cx="737" cy="290" rx="48" ry="72" transform="rotate(-24 737 290)"/>
<ellipse class="l" cx="739" cy="290" rx="38" ry="58" transform="rotate(-24 739 290)"/>
<ellipse class="l" cx="742" cy="290" rx="20" ry="34" transform="rotate(-24 742 290)"/>
</g>
<g transform="translate(640 160) scale(0.25)">
<ellipse class="l" cx="585" cy="1112" rx="130" ry="79" transform="rotate(4 585 1112)"/>
<ellipse class="l" cx="585" cy="1113" rx="121" ry="71" transform="rotate(4 585 1113)"/>
<path class="t" d="M460,1130 Q480,1185 585,1190 Q690,1185 712,1130"/>
<ellipse class="w" cx="625" cy="1500" rx="105" ry="55"/>
<path d="M578,1440 L610,1425 L680,1432 L682,1495 L660,1522 L598,1525 L576,1500Z" fill="#fff" stroke="#000" stroke-width="1.4"/>
<path class="l" d="M598,1452 L598,1525"/>
<path class="l" d="M660,1455 L660,1522"/>
<path class="l" d="M578,1440 L598,1452 L660,1455 L680,1432"/>
<path class="l" d="M576,1488 L598,1500 L660,1500 L682,1480"/>
<path class="l" d="M570,1500 Q575,1530 625,1535 Q680,1530 688,1495"/>
<path d="M590,1395 Q620,1378 657,1392 L660,1440 Q625,1458 590,1440Z" fill="#111" stroke="#000" stroke-width="1.4"/>
<ellipse cx="623" cy="1402" rx="25" ry="13" fill="#fff"/>
</g>
<!-- 50_box2.svg -->
<g transform="translate(532 640) scale(0.25)">
<path class="w" d="M352,708 L368,695 L625,842 L628,1140 L612,1150 L358,1000Z"/>
<path class="t" d="M352,708 L608,855 L612,1150 L358,1000 L352,708"/>
<path class="l" d="M608,855 L625,842"/>
<path class="l" d="M360,702 L616,849 L620,1146"/>
<ellipse class="k" cx="402" cy="755" rx="5" ry="6"/>
<ellipse class="k" cx="558" cy="848" rx="5" ry="6"/>
<ellipse class="k" cx="405" cy="1012" rx="5" ry="6"/>
<ellipse class="k" cx="560" cy="1103" rx="5" ry="6"/>
</g>
<g transform="translate(728 752) scale(0.08333)">
<path class="w" d="M115,695 L235,610 L330,640 L600,650 L720,612 L830,680 L845,690 L845,800 L830,810 L830,920 L780,890 L680,940 L680,1000 L600,1040 L525,1060 L405,1130 L115,950Z"/>
<path class="l" d="M115,695 L410,860 L405,1130"/>
<path class="l" d="M410,860 L520,800 L525,1060"/>
<path class="l" d="M520,800 L600,762 L600,1040"/>
<path class="l" d="M600,762 L660,772 L660,800 L830,700"/>
<path class="l" d="M800,670 L805,810 L845,800"/>
<path class="l" d="M800,670 L845,690"/>
<path class="l" d="M580,700 L650,740 L720,700"/>
<path class="l" d="M650,740 L660,772"/>
<path class="h" d="M600,660 L690,625"/>
<path class="l" d="M700,640 L700,690 L760,720 L760,660"/>
<path class="l" d="M720,612 L722,690"/>
<path d="M140,740 L390,880 L388,1095 L140,950Z" fill="#111"/>
<path d="M160,775 L200,797 L200,845 L160,823Z" fill="#fff"/>
<path d="M222,811 L262,833 L262,881 L222,859Z" fill="#fff"/>
<path d="M284,847 L324,869 L324,917 L284,895Z" fill="#fff"/>
<path d="M160,860 L200,882 L200,930 L160,908Z" fill="#fff"/>
<path d="M222,896 L262,918 L262,966 L222,944Z" fill="#fff"/>
<path d="M284,932 L324,954 L324,1002 L284,980Z" fill="#fff"/>
<path d="M160,945 L200,967 L200,1015 L160,993Z" fill="#fff"/>
<path d="M222,981 L262,1003 L262,1051 L222,1029Z" fill="#fff"/>
<path d="M284,1017 L324,1039 L324,1087 L284,1065Z" fill="#fff"/>
<path d="M330,850 L385,880 L385,1085 L330,1055Z" fill="#111"/>
<path d="M478,856 L508,842 L508,880 L478,894Z" fill="#fff" stroke="#000" stroke-width="1.2"/>
<path d="M478,914 L508,900 L508,938 L478,952Z" fill="#fff" stroke="#000" stroke-width="1.2"/>
<path d="M478,972 L508,958 L508,996 L478,1010Z" fill="#fff" stroke="#000" stroke-width="1.2"/>
<path d="M478,1030 L508,1016 L508,1054 L478,1068Z" fill="#fff" stroke="#000" stroke-width="1.2"/>
<path class="t" d="M470,835 L470,1090"/>
<path class="t" d="M518,810 L518,1062"/>
<path class="w" d="M110,325 L370,175 L400,128 L440,128 L470,160 L810,370 L870,380 L895,440 L880,510 L820,520 L815,520 L495,700 L110,490Z"/>
<path class="l" d="M110,325 L500,545 L810,370"/>
<path class="l" d="M500,545 L495,700"/>
<path class="l" d="M110,325 L420,150"/>
<path class="l" d="M815,520 L810,370"/>
<ellipse class="l" cx="858" cy="458" rx="12" ry="18"/>
<path class="l" d="M215,288 L250,262 L430,162 L690,320 L690,360 L500,480 L215,300Z"/>
<path class="l" d="M250,262 L500,420 L690,320"/>
<path class="l" d="M500,420 L500,480"/>
<path class="h" d="M262,278 L490,412"/>
<path class="l" d="M295,240 L470,142 L650,280 L480,372Z"/>
<path class="l" d="M215,288 Q225,255 250,262"/>
<path class="l" d="M370,175 L400,128 L440,128 L470,160"/>
</g>
<g transform="translate(780 575) scale(0.25)">
<path class="w" d="M400,432 L600,548 L600,775 L400,662Z"/>
<path class="t" d="M600,548 L600,775 L400,662"/>
<ellipse class="k" cx="410" cy="455" rx="4" ry="5"/>
<ellipse class="k" cx="428" cy="487" rx="4" ry="5"/>
<ellipse class="k" cx="580" cy="572" rx="4" ry="5"/>
<ellipse class="k" cx="503" cy="595" rx="4" ry="5"/>
<ellipse class="k" cx="413" cy="655" rx="4" ry="5"/>
<ellipse class="k" cx="505" cy="700" rx="4" ry="5"/>
<ellipse class="k" cx="585" cy="755" rx="4" ry="5"/>
<path d="M215,715 L235,712 L285,740 L285,880 L270,880 L220,850Z" fill="#ccc" stroke="#000" stroke-width="1.3"/>
<path class="l" d="M235,712 L235,845 L270,868"/>
<path class="t" d="M272,745 L272,880"/>
<path class="l" d="M250,735 L250,850"/>
<rect x="256" y="760" width="8" height="22" fill="#555"/><rect x="256" y="812" width="8" height="22" fill="#555"/>
<path class="k" d="M562,100 L574,80 L604,74 L630,90 L632,116 L614,138 L582,140 L564,124Z"/>
<ellipse cx="598" cy="96" rx="17" ry="9" fill="#fff"/><ellipse cx="592" cy="120" rx="14" ry="5" fill="#fff"/>
<path d="M590,138 L606,138 L604,152 L592,152Z" fill="#000"/>
<path class="k" d="M1046,387 L1058,367 L1088,361 L1114,377 L1116,403 L1098,425 L1066,427 L1048,411Z"/>
<ellipse cx="1082" cy="383" rx="17" ry="9" fill="#fff"/><ellipse cx="1076" cy="407" rx="14" ry="5" fill="#fff"/>
<path d="M1074,425 L1090,425 L1088,439 L1076,439Z" fill="#000"/>
<path class="k" d="M756,830 L768,810 L798,804 L824,820 L826,846 L808,868 L776,870 L758,854Z"/>
<ellipse cx="792" cy="826" rx="17" ry="9" fill="#fff"/><ellipse cx="786" cy="850" rx="14" ry="5" fill="#fff"/>
<path d="M784,868 L800,868 L798,882 L786,882Z" fill="#000"/>
<path class="k" d="M828,867 L840,847 L870,841 L896,857 L898,883 L880,905 L848,907 L830,891Z"/>
<ellipse cx="864" cy="863" rx="17" ry="9" fill="#fff"/><ellipse cx="858" cy="887" rx="14" ry="5" fill="#fff"/>
<path d="M856,905 L872,905 L870,919 L858,919Z" fill="#000"/>
</g>
<g transform="translate(920 595) scale(0.125)">
<path class="w" d="M410,110 L430,100 L905,375 L910,460 L910,1000 L910,1080 L850,1045 L575,1195 L555,1195 L95,915 L90,375 L415,185Z"/>
<path class="t" d="M105,368 Q88,372 90,395 L95,895 Q96,915 115,925 L550,1190 Q570,1200 575,1180 L565,660 Q562,640 545,630 Z"/>
<path class="l" d="M135,425 L520,645 Q532,652 532,668 L540,1140 Q540,1155 525,1148 L140,890 Q128,882 128,868 L122,440 Q122,420 135,425Z"/>
<path class="l" d="M100,370 L430,180 L905,455 L565,645"/>
<path class="l" d="M905,455 L910,1000 L575,1195"/>
<path class="t" d="M410,110 L430,100 L905,375"/>
<path class="l" d="M410,110 L415,185"/>
<path class="l" d="M905,375 L908,455"/>
<path class="l" d="M910,1000 L910,1080 L850,1045"/>
<path class="l" d="M432,612 L432,718 L536,778"/>
<path class="l" d="M132,872 L432,708"/>
<path class="l" d="M148,894 L440,730"/>
<path class="l" d="M432,612 L530,668"/>
<path d="M452,700 L490,682 L502,695 L465,716Z" fill="#fff" stroke="#000" stroke-width="1.3"/>
<ellipse class="k" cx="460" cy="708" rx="8" ry="10"/>
<ellipse class="l" cx="405" cy="355" rx="50" ry="30"/>
<path class="l" d="M425,328 Q440,355 425,382"/>
<path class="l" d="M510,450 L535,424 L585,424 L610,450 L585,478 L535,478Z"/>
<ellipse class="l" cx="460" cy="950" rx="55" ry="33"/>
<path class="l" d="M408,940 Q430,975 500,972"/>
<ellipse class="l" cx="175" cy="437" rx="8" ry="10"/>
<ellipse class="l" cx="490" cy="622" rx="8" ry="10"/>
<ellipse class="l" cx="490" cy="1132" rx="8" ry="10"/>
<ellipse class="l" cx="185" cy="940" rx="8" ry="10"/>
<ellipse class="k" cx="495" cy="185" rx="7" ry="10"/>
<ellipse class="k" cx="820" cy="375" rx="7" ry="10"/>
<ellipse class="l" cx="210" cy="930" rx="14" ry="20"/>
<ellipse class="l" cx="518" cy="1112" rx="10" ry="14"/>
</g>
<!-- 90_callouts.svg -->
<ellipse cx="283" cy="153.6" rx="3.2" ry="1.8" fill="#fff" stroke="#000" stroke-width="1.2"/><rect class="k" x="281.5" y="155" width="3.2" height="12.5"/>
<path class="k" d="M397.2 219.5 a1.9 1.9 0 1 1 3.6 0 L400.6 233.5 L397.6 233.5Z"/>
<path class="k" d="M213.0 317.0 l3 -0.8 l2 1.5 l5 -3 l1.5 1.8 l-5.5 4 l-0.5 3 l-3 1 l-2.5 -2.5Z"/>
<path class="k" d="M326.0 383.0 l3 -0.8 l2 1.5 l5 -3 l1.5 1.8 l-5.5 4 l-0.5 3 l-3 1 l-2.5 -2.5Z"/>
<rect class="k" x="278.3" y="470.6" width="3.4" height="14.0" rx="0.8"/><rect class="k" x="277.8" y="472.6" width="4.4" height="4"/>
<rect class="k" x="267.05" y="478" width="3.4" height="14" rx="0.8"/><rect class="k" x="266.55" y="480" width="4.4" height="4"/>
<rect class="k" x="302.3" y="483" width="3.4" height="14" rx="0.8"/><rect class="k" x="301.8" y="485" width="4.4" height="4"/>
<rect class="k" x="289.55" y="491.25" width="3.4" height="14.0" rx="0.8"/><rect class="k" x="289.05" y="493.25" width="4.4" height="4"/>
<path class="k" d="M383.8 535.2 l2.6 -2.6 l3.6 0.4 l0.4 2.4 l-3.6 2.2 l-2.4 -0.4Z"/>
<path class="k" d="M428 588.6 l3 -2 l5 0.2 l1 2.4 l-6 1.6Z"/>
<path class="k" d="M407.5 711.5 l2.4 -2 l3 -0.4 l0.3 1.6 l-3 2.2 l-2 0Z"/>
<path class="k" d="M407.5 726.5 l2.4 -2 l3 -0.4 l0.3 1.6 l-3 2.2 l-2 0Z"/>
<path class="l" style="stroke-width:1" d="M217.3 189.3L240.0 189.3"/><path class="l" style="stroke-width:1" d="M240.0 189.3 L279.0 155.5"/><path class="k" d="M279.0 155.5L270.9 166.0L267.5 162.0Z"/><circle class="c" cx="205" cy="189.5" r="12.3"/><text class="n" x="205" y="194.9" style="font-size:15px">10</text>
<path class="l" style="stroke-width:1" d="M436.4 229.5L414.0 229.5"/><path class="l" style="stroke-width:1" d="M414.0 229.5 L401.0 223.0"/><path class="k" d="M401.0 223.0L413.8 226.5L411.5 231.1Z"/><circle class="c" cx="448.75" cy="230" r="12.3"/><text class="n" x="448.75" y="235.4" style="font-size:15px">10</text>
<path class="l" style="stroke-width:1" d="M160.2 264.3L182.5 264.3"/><path class="l" style="stroke-width:1" d="M182.5 264.3 L212.5 316.3"/><path class="k" d="M212.5 316.3L203.8 306.3L208.3 303.7Z"/><path class="l" style="stroke-width:1" d="M182.5 264.3 L327.5 383.8"/><path class="k" d="M327.5 383.8L315.8 377.5L319.1 373.5Z"/><circle class="c" cx="150.75" cy="265" r="9.4"/><text class="n" x="150.75" y="270.4" style="font-size:15px">9</text>
<path class="l" style="stroke-width:1" d="M204.1 354.5L226.3 354.5"/><path class="l" style="stroke-width:1" d="M226.3 354.5 L252.5 383.8"/><path class="k" d="M252.5 383.8L241.9 375.8L245.8 372.4Z"/><circle class="c" cx="191.75" cy="357" r="12.3"/><text class="n" x="191.75" y="362.4" style="font-size:15px">21</text>
<path class="l" style="stroke-width:1" d="M436.4 410.0L415.0 410.0"/><path class="l" style="stroke-width:1" d="M415.0 410.0 L397.5 389.3"/><path class="k" d="M397.5 389.3L407.9 397.5L403.9 400.9Z"/><circle class="c" cx="448.75" cy="411.25" r="12.3"/><text class="n" x="448.75" y="416.6" style="font-size:15px">15</text>
<path class="l" style="stroke-width:1" d="M190.0 472.3L213.8 472.3"/><path class="l" style="stroke-width:1" d="M213.8 472.3 L278.1 476.3"/><path class="k" d="M278.1 476.3L265.0 478.1L265.3 472.9Z"/><path class="l" style="stroke-width:1" d="M213.8 472.3 L266.3 483.5"/><path class="k" d="M266.3 483.5L253.0 483.3L254.1 478.2Z"/><path class="l" style="stroke-width:1" d="M213.8 472.3 L301.9 490.6"/><path class="k" d="M301.9 490.6L288.6 490.5L289.7 485.4Z"/><path class="l" style="stroke-width:1" d="M213.8 472.3 L290.0 502.5"/><path class="k" d="M290.0 502.5L277.0 500.1L278.9 495.3Z"/><circle class="c" cx="180.6" cy="472" r="9.4"/><text class="n" x="180.6" y="477.4" style="font-size:15px">7</text>
<path class="l" style="stroke-width:1" d="M347.2 483.0L325.5 483.0"/><path class="l" style="stroke-width:1" d="M325.5 483.0 L301.5 529.0"/><path class="k" d="M301.5 529.0L305.2 516.3L309.8 518.7Z"/><circle class="c" cx="359.5" cy="484" r="12.3"/><text class="n" x="359.5" y="489.4" style="font-size:15px">13</text>
<path class="l" style="stroke-width:1" d="M411.9 487.5L390.0 487.5"/><path class="l" style="stroke-width:1" d="M390.0 487.5 L366.3 515.0"/><path class="k" d="M366.3 515.0L372.8 503.5L376.8 506.8Z"/><circle class="c" cx="421.25" cy="488.75" r="9.4"/><text class="n" x="421.25" y="494.1" style="font-size:15px">3</text>
<path class="l" style="stroke-width:1" d="M467.7 512.4L443.8 512.4"/><path class="l" style="stroke-width:1" d="M443.8 512.4 L390.8 532.8"/><path class="k" d="M390.8 532.8L402.0 525.7L403.9 530.6Z"/><path class="l" style="stroke-width:1" d="M443.8 512.4 L432.6 586.3"/><path class="k" d="M432.6 586.3L432.0 573.1L437.1 573.8Z"/><circle class="c" cx="480" cy="513.75" r="12.3"/><text class="n" x="480" y="519.1" style="font-size:15px">22</text>
<path class="l" style="stroke-width:1" d="M217.3 561.5L241.3 561.5"/><path class="l" style="stroke-width:1" d="M241.3 561.5 L257.0 550.0"/><path class="k" d="M257.0 550.0L248.0 559.8L245.0 555.6Z"/><path class="l" style="stroke-width:1" d="M241.3 561.5 L303.3 561.7"/><path class="k" d="M303.3 561.7L290.3 564.3L290.3 559.1Z"/><circle class="c" cx="205" cy="562" r="12.3"/><text class="n" x="205" y="567.4" style="font-size:15px">11</text>
<path class="l" style="stroke-width:1" d="M199.3 601.3L222.5 601.3"/><path class="l" style="stroke-width:1" d="M222.5 601.3 L261.3 581.3"/><path class="k" d="M261.3 581.3L250.9 589.6L248.6 584.9Z"/><circle class="c" cx="187" cy="602" r="12.3"/><text class="n" x="187" y="607.4" style="font-size:15px">12</text>
<path class="l" style="stroke-width:1" d="M228.6 640.5L250.0 640.5"/><path class="l" style="stroke-width:1" d="M250.0 640.5 L267.5 634.0"/><path class="k" d="M267.5 634.0L256.2 641.0L254.4 636.1Z"/><circle class="c" cx="216.25" cy="641.25" r="12.3"/><text class="n" x="216.25" y="646.6" style="font-size:15px">14</text>
<path class="l" style="stroke-width:1" d="M228.2 664.3L252.5 664.3"/><path class="l" style="stroke-width:1" d="M252.5 664.3 L275.0 651.3"/><path class="k" d="M275.0 651.3L265.0 660.1L262.4 655.6Z"/><circle class="c" cx="218.75" cy="665" r="9.4"/><text class="n" x="218.75" y="670.4" style="font-size:15px">8</text>
<path class="l" style="stroke-width:1" d="M408.1 661.3L385.8 661.3"/><path class="l" style="stroke-width:1" d="M385.8 661.3 L365.8 633.8"/><path class="k" d="M365.8 633.8L375.5 642.8L371.3 645.8Z"/><circle class="c" cx="417.5" cy="661.5" r="9.4"/><text class="n" x="417.5" y="666.9" style="font-size:15px">2</text>
<path class="l" style="stroke-width:1" d="M475.3 686.6L452.4 686.6"/><path class="l" style="stroke-width:1" d="M452.4 686.6 L414.5 709.0"/><path class="k" d="M414.5 709.0L424.4 700.1L427.0 704.6Z"/><path class="l" style="stroke-width:1" d="M452.4 686.6 L414.5 725.0"/><path class="k" d="M414.5 725.0L421.8 713.9L425.5 717.6Z"/><circle class="c" cx="487.6" cy="687.3" r="12.3"/><text class="n" x="487.6" y="692.7" style="font-size:15px">22</text>
<path class="l" style="stroke-width:1" d="M433.6 745.5L411.3 745.5"/><path class="l" style="stroke-width:1" d="M411.3 745.5 L393.8 732.5"/><path class="k" d="M393.8 732.5L405.8 738.2L402.7 742.3Z"/><circle class="c" cx="443" cy="746.25" r="9.4"/><text class="n" x="443" y="751.6" style="font-size:15px">5</text>
<path class="l" style="stroke-width:1" d="M427.6 771.3L405.0 771.3"/><path class="l" style="stroke-width:1" d="M405.0 771.3 L275.0 724.0"/><path class="k" d="M275.0 724.0L288.1 726.0L286.3 730.9Z"/><path class="l" style="stroke-width:1" d="M405.0 771.3 L412.5 802.5"/><path class="k" d="M412.5 802.5L406.9 790.5L412.0 789.3Z"/><circle class="c" cx="437" cy="772" r="9.4"/><text class="n" x="437" y="777.4" style="font-size:15px">4</text>
<path class="l" style="stroke-width:1" d="M236.2 768.5L258.5 768.5"/><path class="l" style="stroke-width:1" d="M258.5 768.5 L284.3 800.0"/><path class="k" d="M284.3 800.0L274.1 791.6L278.1 788.3Z"/><circle class="c" cx="226.75" cy="769.5" r="9.4"/><text class="n" x="226.75" y="774.9" style="font-size:15px">1</text>
<path class="l" style="stroke-width:1" d="M146.5 737.5L168.3 737.5"/><path class="l" style="stroke-width:1" d="M168.3 737.5 L150.0 807.5"/><path class="k" d="M150.0 807.5L150.8 794.3L155.8 795.6Z"/><path class="l" style="stroke-width:1" d="M168.3 737.5 L176.5 809.0"/><path class="k" d="M176.5 809.0L172.4 796.4L177.6 795.8Z"/><path class="l" style="stroke-width:1" d="M168.3 737.5 L204.5 838.5"/><path class="k" d="M204.5 838.5L197.7 827.1L202.6 825.4Z"/><path class="l" style="stroke-width:1" d="M168.3 737.5 L207.8 839.5"/><path class="k" d="M207.8 839.5L200.7 828.3L205.5 826.4Z"/><path class="l" style="stroke-width:1" d="M168.3 737.5 L233.5 841.5"/><path class="k" d="M233.5 841.5L224.4 831.9L228.8 829.1Z"/><path class="l" style="stroke-width:1" d="M168.3 737.5 L239.0 845.0"/><path class="k" d="M239.0 845.0L229.7 835.6L234.0 832.7Z"/><circle class="c" cx="134.2" cy="737.5" r="12.3"/><text class="n" x="134.2" y="742.9" style="font-size:15px">22</text>
<path class="l" style="stroke-width:1" d="M129.7 826.7L151.7 826.7"/><path class="l" style="stroke-width:1" d="M151.7 826.7 L173.3 840.0"/><path class="k" d="M173.3 840.0L160.9 835.4L163.6 831.0Z"/><circle class="c" cx="120.3" cy="828.3" r="9.4"/><text class="n" x="120.3" y="833.7" style="font-size:15px">6</text>
<path class="l" style="stroke-width:1" d="M156.5 940.8L179.2 940.8"/><path class="l" style="stroke-width:1" d="M179.2 940.8 L163.3 872.5"/><path class="k" d="M163.3 872.5L168.8 884.6L163.7 885.8Z"/><path class="l" style="stroke-width:1" d="M179.2 940.8 L166.7 865.8"/><path class="k" d="M166.7 865.8L171.4 878.2L166.3 879.1Z"/><path class="l" style="stroke-width:1" d="M179.2 940.8 L170.0 875.0"/><path class="k" d="M170.0 875.0L174.4 887.5L169.2 888.2Z"/><path class="l" style="stroke-width:1" d="M179.2 940.8 L172.5 858.3"/><path class="k" d="M172.5 858.3L176.1 871.0L171.0 871.5Z"/><circle class="c" cx="144.2" cy="941.7" r="12.3"/><text class="n" x="144.2" y="947.1" style="font-size:15px">22</text>
<path class="l" style="stroke-width:1" d="M199.1 960.0L221.7 960.0"/><path class="l" style="stroke-width:1" d="M221.7 960.0 L201.7 885.0"/><path class="k" d="M201.7 885.0L207.6 896.9L202.5 898.2Z"/><path class="l" style="stroke-width:1" d="M221.7 960.0 L303.0 949.8"/><path class="k" d="M303.0 949.8L290.4 954.0L289.8 948.8Z"/><circle class="c" cx="189.7" cy="960" r="9.4"/><text class="n" x="189.7" y="965.4" style="font-size:15px">4</text>
<path class="l" style="stroke-width:1" d="M854.0 190.0L832.5 190.0"/><path class="l" style="stroke-width:1" d="M832.5 190.0 L798.8 282.5"/><path class="k" d="M798.8 282.5L800.8 269.4L805.6 271.2Z"/><circle class="c" cx="866.25" cy="191.25" r="12.3"/><text class="n" x="866.25" y="196.7" style="font-size:15px">25</text>
<path class="l" style="stroke-width:1" d="M731.0 251.3L750.0 251.3"/><path class="l" style="stroke-width:1" d="M750.0 251.3 L776.3 277.5"/><path class="k" d="M776.3 277.5L765.3 270.2L768.9 266.5Z"/><circle class="c" cx="718.75" cy="253" r="12.3"/><text class="n" x="718.75" y="258.4" style="font-size:15px">26</text>
<path class="l" style="stroke-width:1" d="M843.3 266.5L863.5 266.5"/><path class="l" style="stroke-width:1" d="M863.5 266.5 L856.3 291.5"/><path class="k" d="M856.3 291.5L857.4 278.3L862.4 279.7Z"/><circle class="c" cx="831" cy="267.7" r="12.3"/><text class="n" x="831" y="273.1" style="font-size:15px">24</text>
<path class="l" style="stroke-width:1" d="M676.8 325.5L697.0 325.5"/><path class="l" style="stroke-width:1" d="M697.0 325.5 L693.0 374.0"/><path class="k" d="M693.0 374.0L691.5 360.8L696.7 361.3Z"/><circle class="c" cx="664.5" cy="327" r="12.3"/><text class="n" x="664.5" y="332.4" style="font-size:15px">17</text>
<path class="l" style="stroke-width:1" d="M861.5 389.7L842.5 389.7"/><path class="l" style="stroke-width:1" d="M842.5 389.7 L823.7 350.0"/><path class="k" d="M823.7 350.0L831.6 360.6L826.9 362.9Z"/><circle class="c" cx="873.75" cy="391.25" r="12.3"/><text class="n" x="873.75" y="396.6" style="font-size:15px">23</text>
<path class="l" style="stroke-width:1" d="M863.2 448.8L840.0 448.8"/><path class="l" style="stroke-width:1" d="M840.0 448.8 L818.0 443.0"/><path class="k" d="M818.0 443.0L831.2 443.8L829.9 448.8Z"/><circle class="c" cx="875.5" cy="448.75" r="12.3"/><text class="n" x="875.5" y="454.1" style="font-size:15px">18</text>
<path class="l" style="stroke-width:1" d="M894.7 543.0L875.0 543.0"/><path class="l" style="stroke-width:1" d="M875.0 543.0 L803.8 517.5"/><path class="k" d="M803.8 517.5L816.9 519.4L815.1 524.3Z"/><circle class="c" cx="907" cy="543.75" r="12.3"/><text class="n" x="907" y="549.1" style="font-size:15px">19</text>
<path class="l" style="stroke-width:1" d="M954.0 340.0L934.2 340.0"/><path class="l" style="stroke-width:1" d="M934.2 340.0 L899.7 305.0"/><path class="k" d="M899.7 305.0L910.7 312.4L907.0 316.1Z"/><circle class="c" cx="966.3" cy="340" r="12.3"/><text class="n" x="966.3" y="345.4" style="font-size:15px">27</text>
<path class="l" style="stroke-width:1" d="M939.4 374.0L920.0 374.0"/><path class="l" style="stroke-width:1" d="M920.0 374.0 L862.5 323.5"/><path class="k" d="M862.5 323.5L874.0 330.1L870.6 334.0Z"/><circle class="c" cx="951.7" cy="375.2" r="12.3"/><text class="n" x="951.7" y="380.6" style="font-size:15px">20</text>
<path class="l" style="stroke-width:1" d="M956.8 188.6L976.9 188.6"/><path class="l" style="stroke-width:1" d="M976.9 188.6 L961.6 251.5"/><path class="k" d="M961.6 251.5L962.1 238.3L967.2 239.5Z"/><circle class="c" cx="944.5" cy="190.4" r="12.3"/><text class="n" x="944.5" y="195.8" style="font-size:15px">16</text>
<g transform="translate(568 866) rotate(-15)"><ellipse class="k" cx="0" cy="0" rx="3.3" ry="2.9"/><rect class="k" x="0" y="-1.4" width="7" height="2.8"/><circle cx="-0.8" cy="-0.5" r="1.1" fill="#fff"/></g>
<g transform="translate(567 929) rotate(-15)"><ellipse class="k" cx="0" cy="0" rx="3.3" ry="2.9"/><rect class="k" x="0" y="-1.4" width="7" height="2.8"/><circle cx="-0.8" cy="-0.5" r="1.1" fill="#fff"/></g>
<g transform="translate(606.5 889) rotate(-15)"><ellipse class="k" cx="0" cy="0" rx="3.3" ry="2.9"/><rect class="k" x="0" y="-1.4" width="7" height="2.8"/><circle cx="-0.8" cy="-0.5" r="1.1" fill="#fff"/></g>
<g transform="translate(607 953) rotate(-15)"><ellipse class="k" cx="0" cy="0" rx="3.3" ry="2.9"/><rect class="k" x="0" y="-1.4" width="7" height="2.8"/><circle cx="-0.8" cy="-0.5" r="1.1" fill="#fff"/></g>
<g transform="translate(682 815.5) rotate(-10)"><ellipse class="k" cx="0" cy="0" rx="3.3" ry="2.9"/><rect class="k" x="0" y="-1.4" width="7" height="2.8"/><circle cx="-0.8" cy="-0.5" r="1.1" fill="#fff"/></g>
<g transform="translate(719.5 837.5) rotate(-10)"><ellipse class="k" cx="0" cy="0" rx="3.3" ry="2.9"/><rect class="k" x="0" y="-1.4" width="7" height="2.8"/><circle cx="-0.8" cy="-0.5" r="1.1" fill="#fff"/></g>
<g transform="translate(817.5 725.5) rotate(-20)"><ellipse class="k" cx="0" cy="0" rx="3.3" ry="2.9"/><rect class="k" x="0" y="-1.4" width="7" height="2.8"/><circle cx="-0.8" cy="-0.5" r="1.1" fill="#fff"/></g>
<g transform="translate(808.5 780) rotate(-20)"><ellipse class="k" cx="0" cy="0" rx="3.3" ry="2.9"/><rect class="k" x="0" y="-1.4" width="7" height="2.8"/><circle cx="-0.8" cy="-0.5" r="1.1" fill="#fff"/></g>
<g transform="translate(861 751) rotate(-20)"><ellipse class="k" cx="0" cy="0" rx="3.3" ry="2.9"/><rect class="k" x="0" y="-1.4" width="7" height="2.8"/><circle cx="-0.8" cy="-0.5" r="1.1" fill="#fff"/></g>
<g transform="translate(860 801) rotate(-20)"><ellipse class="k" cx="0" cy="0" rx="3.3" ry="2.9"/><rect class="k" x="0" y="-1.4" width="7" height="2.8"/><circle cx="-0.8" cy="-0.5" r="1.1" fill="#fff"/></g>
<g transform="translate(826 769) rotate(150)"><ellipse class="k" cx="0" cy="0" rx="3.3" ry="2.9"/><rect class="k" x="0" y="-1.4" width="7" height="2.8"/><circle cx="-0.8" cy="-0.5" r="1.1" fill="#fff"/></g>
<g transform="translate(827 796) rotate(150)"><ellipse class="k" cx="0" cy="0" rx="3.3" ry="2.9"/><rect class="k" x="0" y="-1.4" width="7" height="2.8"/><circle cx="-0.8" cy="-0.5" r="1.1" fill="#fff"/></g>
<path class="l" style="stroke-width:1" d="M566.4 809.5L587.5 809.5"/><path class="l" style="stroke-width:1" d="M587.5 809.5 L569.5 862.5"/><path class="k" d="M569.5 862.5L571.2 849.4L576.1 851.0Z"/><path class="l" style="stroke-width:1" d="M587.5 809.5 L605.8 886.0"/><path class="k" d="M605.8 886.0L600.2 874.0L605.3 872.8Z"/><path class="l" style="stroke-width:1" d="M587.5 809.5 L567.0 926.0"/><path class="k" d="M567.0 926.0L566.7 912.7L571.8 913.6Z"/><path class="l" style="stroke-width:1" d="M587.5 809.5 L606.0 950.0"/><path class="k" d="M606.0 950.0L601.7 937.5L606.9 936.8Z"/><circle class="c" cx="557.75" cy="810.5" r="8.6"/><text class="n" x="557.75" y="815.9" style="font-size:15px">A</text>
<path class="l" style="stroke-width:1" d="M592.6 743.8L614.5 743.8"/><path class="l" style="stroke-width:1" d="M614.5 743.8 L622.5 813.8"/><path class="k" d="M622.5 813.8L618.4 801.1L623.6 800.5Z"/><circle class="c" cx="584" cy="744.5" r="8.6"/><text class="n" x="584" y="749.9" style="font-size:15px">G</text>
<path class="l" style="stroke-width:1" d="M677.6 694.5L699.0 694.5"/><path class="l" style="stroke-width:1" d="M699.0 694.5 L684.0 812.5"/><path class="k" d="M684.0 812.5L683.1 799.3L688.2 799.9Z"/><path class="l" style="stroke-width:1" d="M699.0 694.5 L719.5 833.8"/><path class="k" d="M719.5 833.8L715.0 821.3L720.2 820.5Z"/><circle class="c" cx="669" cy="695" r="8.6"/><text class="n" x="669" y="700.4" style="font-size:15px">E</text>
<path class="l" style="stroke-width:1" d="M740.6 710.0L762.0 710.0"/><path class="l" style="stroke-width:1" d="M762.0 710.0 L772.0 765.0"/><path class="k" d="M772.0 765.0L767.1 752.7L772.2 751.7Z"/><circle class="c" cx="732" cy="710.75" r="8.6"/><text class="n" x="732" y="716.1" style="font-size:15px">B</text>
<path class="l" style="stroke-width:1" d="M749.4 908.8L771.5 908.8"/><path class="l" style="stroke-width:1" d="M771.5 908.8 L770.8 842.5"/><path class="k" d="M770.8 842.5L773.5 855.5L768.3 855.5Z"/><circle class="c" cx="740.75" cy="908.75" r="8.6"/><text class="n" x="740.75" y="914.1" style="font-size:15px">C</text>
<path class="l" style="stroke-width:1" d="M817.9 663.8L839.5 663.8"/><path class="l" style="stroke-width:1" d="M839.5 663.8 L817.5 722.5"/><path class="k" d="M817.5 722.5L819.6 709.4L824.5 711.2Z"/><path class="l" style="stroke-width:1" d="M839.5 663.8 L811.2 772.5"/><path class="k" d="M811.2 772.5L812.0 759.3L817.0 760.6Z"/><path class="l" style="stroke-width:1" d="M839.5 663.8 L861.2 747.5"/><path class="k" d="M861.2 747.5L855.5 735.6L860.5 734.3Z"/><path class="l" style="stroke-width:1" d="M839.5 663.8 L860.0 796.2"/><path class="k" d="M860.0 796.2L855.4 783.8L860.6 783.0Z"/><circle class="c" cx="809.25" cy="664.25" r="8.6"/><text class="n" x="809.25" y="669.6" style="font-size:15px">D</text>
<path class="l" style="stroke-width:1" d="M818.1 864.2L797.0 864.2"/><path class="l" style="stroke-width:1" d="M797.0 864.2 L823.5 771.5"/><path class="k" d="M823.5 771.5L822.4 784.7L817.4 783.3Z"/><path class="l" style="stroke-width:1" d="M797.0 864.2 L824.5 798.0"/><path class="k" d="M824.5 798.0L821.9 811.0L817.1 809.0Z"/><circle class="c" cx="826.75" cy="864.5" r="8.6"/><text class="n" x="826.75" y="869.9" style="font-size:15px">E</text>
<path class="l" style="stroke-width:1" d="M878.9 879.2L857.5 879.2"/><path class="l" style="stroke-width:1" d="M857.5 879.2 L848.8 795.0"/><path class="k" d="M848.8 795.0L852.7 807.7L847.5 808.2Z"/><circle class="c" cx="887.5" cy="879.5" r="8.6"/><text class="n" x="887.5" y="884.9" style="font-size:15px">F</text>
<path class="l" style="stroke-width:1" d="M903.6 833.2L925.5 833.2"/><path class="l" style="stroke-width:1" d="M925.5 833.2 L927.0 767.5"/><path class="k" d="M927.0 767.5L929.3 780.6L924.1 780.4Z"/><circle class="c" cx="895" cy="833.75" r="8.6"/><text class="n" x="895" y="839.1" style="font-size:15px">H</text>
<path class="l" style="stroke-width:1" d="M1044.4 771.2L1023.8 771.2"/><path class="l" style="stroke-width:1" d="M1023.8 771.2 L1005.0 737.5"/><path class="k" d="M1005.0 737.5L1013.6 747.6L1009.0 750.1Z"/><circle class="c" cx="1053" cy="771.25" r="8.6"/><text class="n" x="1053" y="776.6" style="font-size:15px">G</text>
<path class="l" style="stroke-width:1" d="M843.6 630.0L865.0 630.0"/><path class="l" style="stroke-width:1" d="M865.0 630.0 L920.0 603.0"/><path class="k" d="M920.0 603.0L909.5 611.1L907.2 606.4Z"/><circle class="c" cx="835" cy="630.5" r="8.6"/><text class="n" x="835" y="635.9" style="font-size:15px">I</text>
<path class="l" style="stroke-width:1" d="M1022.6 870.0L1001.2 870.0"/><path class="l" style="stroke-width:1" d="M1001.2 870.0 L978.8 793.8"/><path class="k" d="M978.8 793.8L984.9 805.5L979.9 807.0Z"/><path class="l" style="stroke-width:1" d="M1001.2 870.0 L999.5 803.8"/><path class="k" d="M999.5 803.8L1002.4 816.7L997.2 816.8Z"/><circle class="c" cx="1031.25" cy="869.5" r="8.6"/><text class="n" x="1031.25" y="874.9" style="font-size:15px">I</text>
<path class="l" style="stroke-width:1" d="M1088.9 702.5L1070.0 702.5"/><path class="l" style="stroke-width:1" d="M1070.0 702.5 L1057.5 676.2"/><path class="k" d="M1057.5 676.2L1065.4 686.9L1060.7 689.1Z"/><circle class="c" cx="1097.5" cy="702.9" r="8.6"/><text class="n" x="1097.5" y="708.3" style="font-size:15px">I</text>
</svg>
</body></html>
